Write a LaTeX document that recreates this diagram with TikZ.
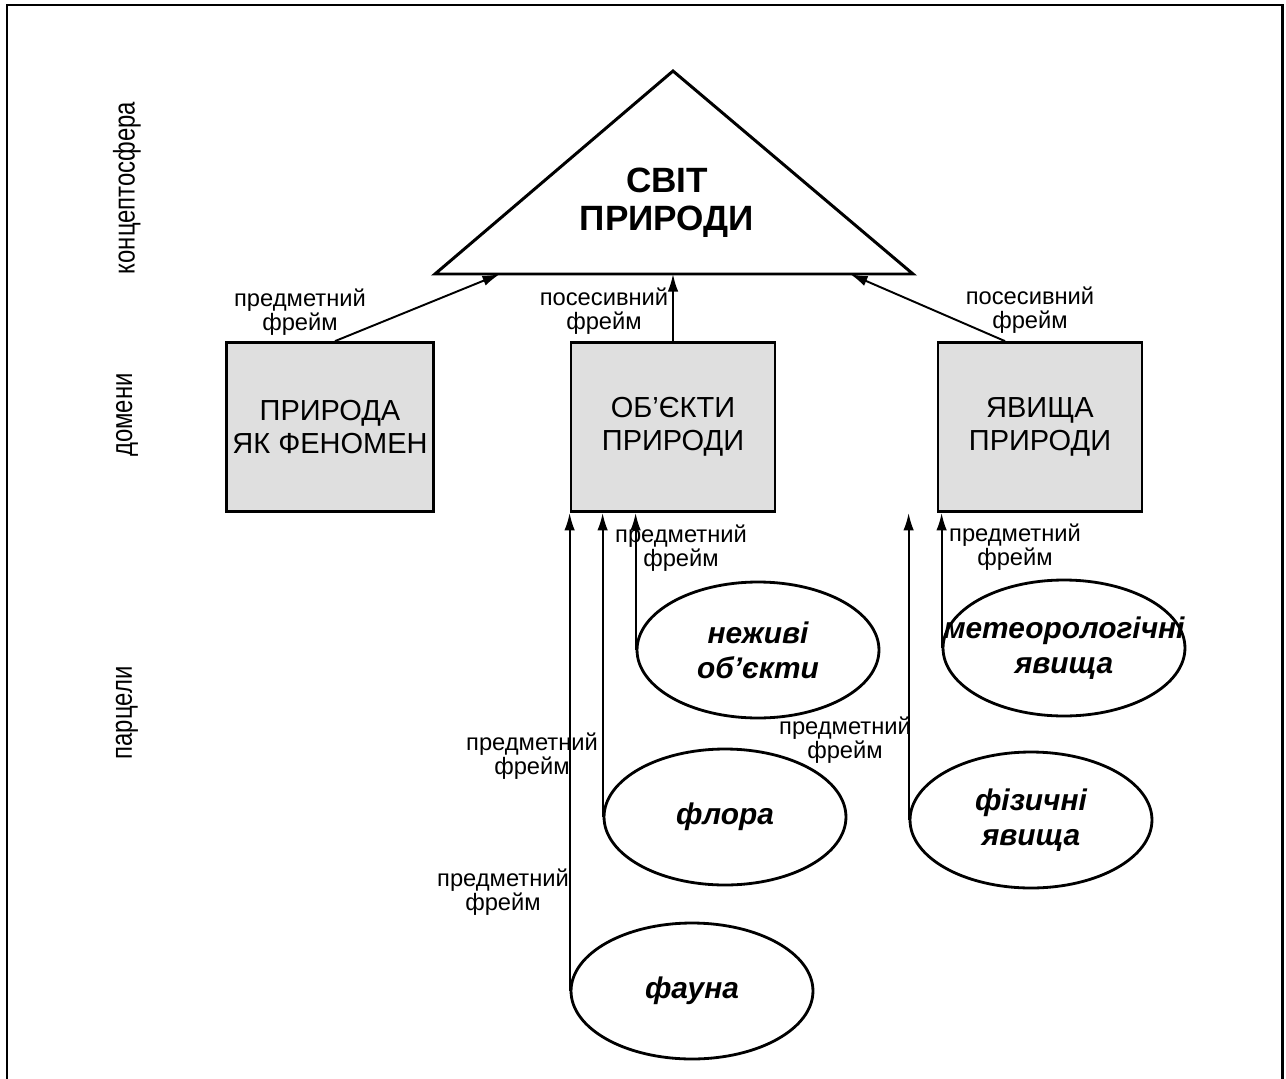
\documentclass[tikz,border=0pt]{standalone}
\usepackage{fontspec}
\setmainfont{Liberation Sans}
\newfontfamily\narrowfont[FakeStretch=0.8]{Liberation Sans}
\usetikzlibrary{shapes.geometric,arrows.meta}

\begin{document}
\begin{tikzpicture}[x=0.02cm,y=-0.02cm,
  frame/.style={line width=1.7pt},
  domainbox/.style={draw,line width=1.6pt,fill=gray!25,minimum width=4.08cm,minimum height=3.38cm,align=center,font=\fontsize{16.5}{19}\selectfont},
  parcel/.style={ellipse,draw,line width=1.6pt,minimum width=4.84cm,minimum height=2.72cm,inner sep=0pt},
  ptext/.style={align=center,font=\fontsize{17}{20}\selectfont\bfseries\itshape},
  fr/.style={align=center,font=\fontsize{13.5}{14}\selectfont,inner sep=1pt},
  side/.style={rotate=90,font=\narrowfont\fontsize{17}{20}\selectfont},
  arr/.style={line width=1.1pt,-{Latex[length=10pt,width=6pt]}}
]
\useasboundingbox (0,0) rectangle (1286,1079);
\draw[frame] (7,1079) -- (7,5) -- (1282,5) -- (1282,1079);

% levels
\node[side] (konc) at (127,188) {концептосфера};
\node[side] (dom) at (127,415) {домени};
\node[side] (parc) at (127,713) {парцели};

% concept sphere
\coordinate (apex) at (673,71);
\coordinate (bl) at (435,274);
\coordinate (br) at (913,274);
\draw[line width=1.7pt] (bl) -- (apex) -- (br) -- cycle;
\node[align=center,font=\fontsize{20}{21.5}\selectfont\bfseries] (svit) at (667,203) {СВІТ\\ПРИРОДИ};
\coordinate (t1) at (500,274);
\coordinate (t2) at (673,274);
\coordinate (t3) at (850,274);

% domains
\node[domainbox] (phen) at (330,427) {ПРИРОДА\\ЯК ФЕНОМЕН};
\node[domainbox] (obj) at (673,427) {ОБ’ЄКТИ\\ПРИРОДИ};
\node[domainbox] (yav) at (1040,427) {ЯВИЩА\\ПРИРОДИ};

\draw[arr] ([xshift=0.1cm]phen.north) -- (t1);
\draw[arr] (obj.north) -- (t2);
\draw[arr] ([xshift=-0.7cm]yav.north) -- (t3);

% parcels
\node[parcel,label={[ptext]center:неживі\\об’єкти}] (nezh) at (758,650) {};
\node[parcel,label={[ptext]center:флора}] (flora) at (725,817) {};
\node[parcel,label={[ptext]center:фауна}] (fauna) at (692,991) {};
\node[parcel,label={[ptext]center:метеорологічні\\явища}] (meteo) at (1064,648) {};
\node[parcel,label={[ptext]center:фізичні\\явища}] (phys) at (1031,820) {};

\draw[arr] (fauna.west) -- (fauna.west |- obj.south);
\draw[arr] (flora.west) -- (flora.west |- obj.south);
\draw[arr] (nezh.west) -- (nezh.west |- obj.south);
\draw[arr] (phys.west) -- (phys.west |- yav.south);
\draw[arr] (meteo.west) -- (meteo.west |- yav.south);

% frames
\node[fr] (f1) at (300,312) {предметний\\фрейм};
\node[fr] (f2) at (604,311) {посесивний\\фрейм};
\node[fr] (f3) at (1030,310) {посесивний\\фрейм};
\node[fr] (f4) at (681,548) {предметний\\фрейм};
\node[fr] (f5) at (1015,547) {предметний\\фрейм};
\node[fr] (f6) at (532,756) {предметний\\фрейм};
\node[fr] (f7) at (503,892) {предметний\\фрейм};
\node[fr] (f8) at (845,740) {предметний\\фрейм};

\end{tikzpicture}
\end{document}
